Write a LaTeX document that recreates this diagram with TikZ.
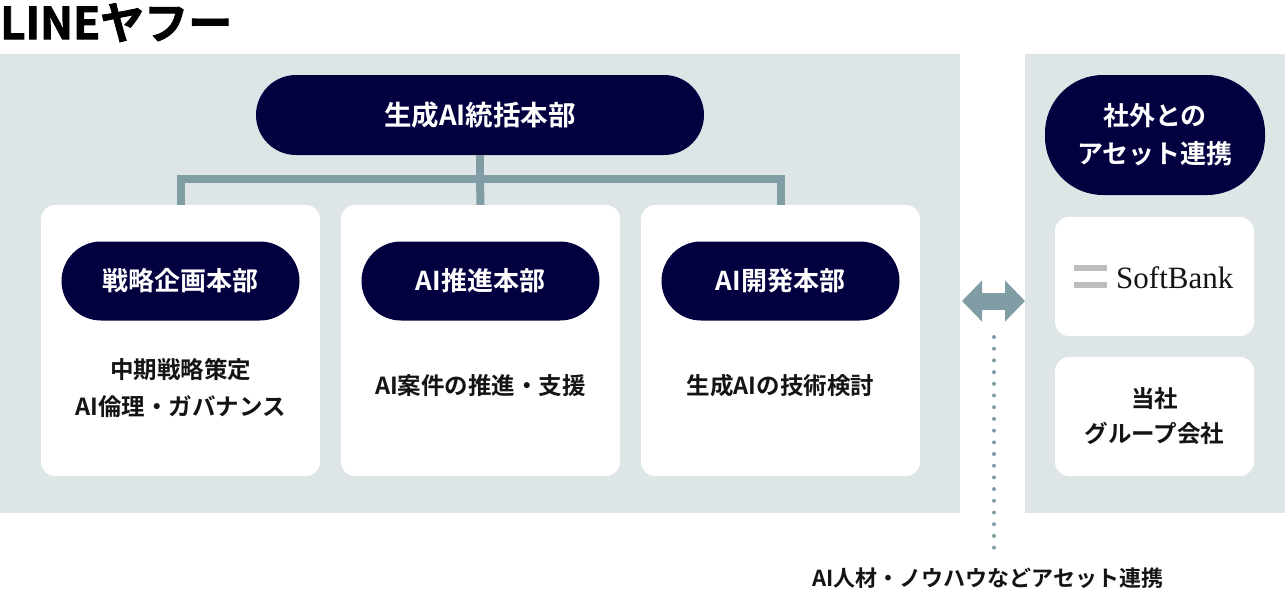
\documentclass[tikz,border=0pt]{standalone}
\usepackage{fontspec}
\setmainfont{Noto Sans CJK JP}[BoldFont={* Bold}]
\newfontfamily\logofont{Noto Sans CJK JP Bold}[FakeBold=2]
\newfontfamily\sbfont{Liberation Serif}
\usetikzlibrary{positioning,arrows.meta}

\definecolor{navy}{RGB}{3,0,64}
\definecolor{panelgray}{RGB}{222,229,231}
\definecolor{linkgray}{RGB}{128,156,164}
\definecolor{sbgray}{RGB}{190,190,190}
\definecolor{inkblack}{RGB}{20,20,20}

\tikzset{
  panel/.style={fill=panelgray, inner sep=0pt, anchor=north west},
  pill/.style={fill=navy, text=white, inner sep=0pt, align=center,
    font=\bfseries\fontsize{26}{38}\selectfont},
  card/.style={fill=white, rounded corners=14pt, inner sep=0pt,
    minimum width=279pt, minimum height=271pt},
  desc/.style={text=inkblack, align=center, font=\bfseries\fontsize{23.5}{37}\selectfont},
  link/.style={draw=linkgray, line width=8pt},
}

\begin{document}
\begin{tikzpicture}[x=1pt,y=-1pt]
    \useasboundingbox (0,0) rectangle (1285,590);
    % logo
    \node[anchor=north west, inner sep=0pt, font=\logofont\fontsize{44}{44}\selectfont] (logo) at (0,3) {LINEヤフー};
    % panels
    \node[panel, minimum width=960pt, minimum height=459pt] (left) at (0,54) {};
    \node[panel, minimum width=260pt, minimum height=459pt] (right) at (1025,54) {};

    \node[pill, minimum width=448pt, minimum height=80pt, rounded corners=40pt, font=\bfseries\fontsize{27.5}{38}\selectfont] (head) at (480,115) {生成AI統括本部};
    \coordinate (fork) at (480,179);

    % links
    \draw[link] (head.south) -- (fork);
    \draw[link] (480.5,205) -- (fork);
    \draw[link] (180.5,205) |- (fork) -| (780.5,205);

    \node[card] (strat) at (180.5,340.5) {};
    \node[card] (promo) at (480.5,340.5) {};
    \node[card] (dev) at (780.5,340.5) {};

    \node[pill, minimum width=238pt, minimum height=79pt, rounded corners=39.5pt, yshift=59.5pt] (stratp) at (strat.center) {戦略企画本部};
    \node[pill, minimum width=238pt, minimum height=79pt, rounded corners=39.5pt, yshift=59.5pt] (promop) at (promo.center) {AI推進本部};
    \node[pill, minimum width=238pt, minimum height=79pt, rounded corners=39.5pt, yshift=59.5pt] (devp) at (dev.center) {AI開発本部};

    \node[desc, yshift=-47pt] (stratd) at (strat.center) {中期戦略策定\\AI倫理・ガバナンス};
    \node[desc, yshift=-45pt] (promod) at (promo.center) {AI案件の推進・支援};
    \node[desc, yshift=-45pt] (devd) at (dev.center) {生成AIの技術検討};

    % outside
    \node[pill, minimum width=220pt, minimum height=120pt, rounded corners=58pt] (ext) at (1155,135) {社外との\\アセット連携};
    \node[card, minimum width=199pt, minimum height=119pt] (sb) at (1154.5,276.5) {};
    \node[card, desc, minimum width=199pt, minimum height=119pt, font=\bfseries\fontsize{23.5}{35}\selectfont] (group) at (1154.5,416.5) {当社\\グループ会社};
    \fill[sbgray] (1074,265) rectangle (1107,271);
    \fill[sbgray] (1074,282) rectangle (1107,288);
    \node[anchor=base west, inner sep=0pt, text=inkblack, font=\sbfont\fontsize{31}{31}\selectfont] (sbname) at (1116,288) {SoftBank};

    % exchange
    \coordinate (xl) at (962,301);
    \coordinate (xr) at (1025,301);
    \draw[linkgray, line width=17pt, {Triangle[width=40pt,length=20pt]}-{Triangle[width=40pt,length=20pt]}] (xl) -- (xr);
    \coordinate (dtop) at (994,337);
    \coordinate (dbot) at (994,548);
    \draw[linkgray, line width=4pt, line cap=round, dash pattern=on 0pt off 11.7pt] (dtop) -- (dbot);
    \node[desc, font=\bfseries\fontsize{22}{22}\selectfont] (note) at (988,578) {AI人材・ノウハウなどアセット連携};
\end{tikzpicture}
\end{document}
